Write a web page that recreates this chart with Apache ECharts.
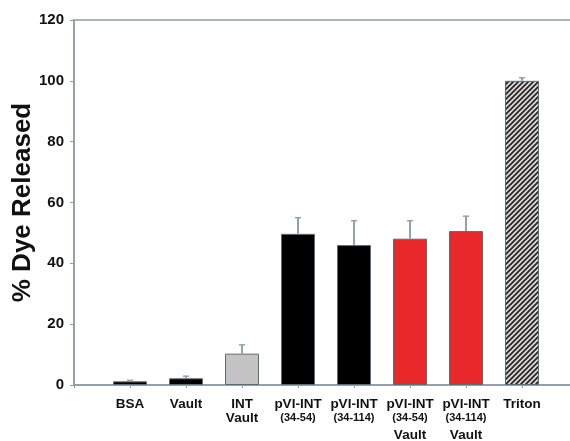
<!DOCTYPE html>
<html><head><meta charset="utf-8">
<script src="https://cdn.jsdelivr.net/npm/echarts@6/dist/echarts.min.js"></script>
<style>html,body{margin:0;padding:0;background:#fff}#c{width:570px;height:441px}</style>
</head><body><div id="c"></div>
<script>
const categories = ['BSA','Vault','INT\nVault','pVI-INT\n(34-54)','pVI-INT\n(34-114)','pVI-INT\n(34-54)\nVault','pVI-INT\n(34-114)\nVault','Triton'];
const values = [1.2, 2.2, 10.3, 49.7, 46.0, 48.1, 50.6, 100];
const errors = [0.3, 0.7, 2.9, 5.3, 8.0, 5.9, 4.9, 1.0];
const yTicks = [0, 20, 40, 60, 80, 100, 120];

const axisCol = '#8d9ca7';
const cv = document.createElement('canvas');
cv.width = 5; cv.height = 5;
const g = cv.getContext('2d');
g.fillStyle = '#e4dcdc'; g.fillRect(0,0,5,5);
g.strokeStyle = '#2a2a2a'; g.lineWidth = 1.9;
g.beginPath(); g.moveTo(-1,6); g.lineTo(6,-1); g.moveTo(-4,4); g.lineTo(4,-4); g.moveTo(1,9); g.lineTo(9,1); g.stroke();
const hatch = {image: cv, repeat: 'repeat'};
const fills = ['#000','#000','#c4c4c4','#000','#000','#e8282b','#e8282b', hatch];

const xData = [''].concat(categories).concat(['']);
const barData = [null].concat(values.map((v,i)=>({value:v, itemStyle:{color:fills[i]}}))).concat([null]);
const errData = values.map((v,i)=>[i+1, v, v+errors[i]]);

function fmt(s){
  if(!s) return '';
  const lines = s.split('\n');
  return lines.map((l,i)=>{
    if(i===0) return '{a|'+l+'}';
    if(l.charAt(0)==='(') return '{b|'+l+'}';
    return (i===1?'{v|':'{c|')+l+'}';
  }).join('\n');
}

const chart = echarts.init(document.getElementById('c'), null, {renderer:'canvas'});
chart.setOption({
  animation:false,
  grid:{left:74, top:20, width:504, bottom:56, show:true, borderColor:axisCol, borderWidth:1.5, backgroundColor:'transparent', outerBoundsMode:'none', containLabel:false},
  xAxis:{type:'category', data:xData, boundaryGap:false,
    axisLine:{lineStyle:{color:axisCol, width:1.5}},
    axisTick:{show:true, interval:0, length:3, lineStyle:{color:axisCol}},
    axisLabel:{interval:0, margin:13, formatter:fmt, color:'#111',
      rich:{
        a:{fontFamily:'Liberation Sans, Arial', fontWeight:'bold', fontSize:13.5, lineHeight:13},
        b:{fontFamily:'Liberation Sans, Arial', fontWeight:'bold', fontSize:11, lineHeight:13},
        v:{fontFamily:'Liberation Sans, Arial', fontWeight:'bold', fontSize:13.5, lineHeight:14},
        c:{fontFamily:'Liberation Sans, Arial', fontWeight:'bold', fontSize:13.5, lineHeight:22}
      }},
    splitLine:{show:false}
  },
  yAxis:{type:'value', min:0, max:120, interval:20,
    name:'% Dye Released', nameLocation:'middle', nameGap:38, nameMoveOverlap:false,
    nameTextStyle:{fontFamily:'Liberation Sans, Arial', fontWeight:'bold', fontSize:26, color:'#111'},
    axisLine:{show:true, lineStyle:{color:axisCol, width:1.5}},
    axisTick:{show:true, length:4, lineStyle:{color:axisCol}},
    axisLabel:{margin:10, fontFamily:'Liberation Sans, Arial', fontWeight:'bold', fontSize:15, color:'#111',
      formatter:v=>yTicks.indexOf(v)>=0?String(v):''},
    splitLine:{show:false}
  },
  series:[
    {type:'bar', data:barData, barWidth:34, itemStyle:{borderColor:'#5f6b73', borderWidth:1}, z:2},
    {type:'custom', data:errData, z:3,
      renderItem:function(params, api){
        const x = api.value(0);
        const p0 = api.coord([x, api.value(1)]);
        const p1 = api.coord([x, api.value(2)]);
        return {type:'group', children:[
          {type:'line', shape:{x1:p0[0], y1:p0[1], x2:p1[0], y2:p1[1]}, style:{stroke:'#8fa2ae', lineWidth:2}},
          {type:'line', shape:{x1:p1[0]-3, y1:p1[1], x2:p1[0]+3, y2:p1[1]}, style:{stroke:'#8fa2ae', lineWidth:1.5}}
        ]};
      }
    }
  ]
});
</script></body></html>
